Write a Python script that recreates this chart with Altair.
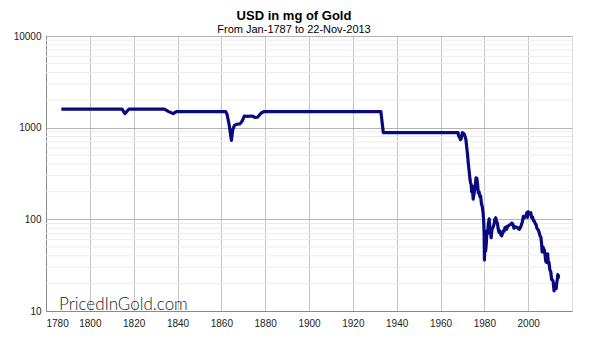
import altair as alt
import pandas as pd

# ---- data (year, USD value in mg of gold) ----
years = [
    1787.0, 1814.7, 1816.0, 1817.8, 1834.0, 1836.0, 1838.0, 1839.5,
    1862.0, 1862.6, 1863.5, 1864.6, 1865.2, 1866.0, 1867.0, 1868.5, 1869.5,
    1870.5, 1872.0, 1874.0, 1875.5, 1876.5, 1878.0, 1879.3,
    1932.8, 1933.9, 1950.0, 1960.0,
    1968.0, 1968.2, 1968.5, 1968.8, 1969.1, 1969.4, 1969.7, 1970.0, 1970.4,
    1970.8, 1971.2, 1971.6, 1971.9, 1972.3, 1972.6, 1972.9, 1973.1, 1973.4,
    1973.7, 1974.0, 1974.2, 1974.5, 1974.9, 1975.3, 1975.7, 1976.0, 1976.2,
    1976.6, 1977.0, 1977.2, 1977.6, 1978.0, 1978.3, 1978.7, 1979.0, 1979.4,
    1979.7, 1979.9, 1980.05, 1980.2, 1980.4, 1980.6, 1980.9, 1981.2, 1981.5,
    1981.8, 1982.2, 1982.5, 1982.8, 1983.1, 1983.4, 1983.7, 1984.0, 1984.4,
    1984.8, 1985.2, 1985.6, 1986.0, 1986.3, 1986.7, 1987.0, 1987.5, 1987.9,
    1988.3, 1988.7, 1989.0, 1989.4, 1989.8, 1990.2, 1990.6, 1991.0, 1991.5,
    1992.0, 1992.5, 1993.0, 1993.5, 1994.0, 1994.5, 1995.0, 1995.5, 1996.0,
    1996.5, 1997.0, 1997.4, 1997.8, 1998.2, 1998.6, 1999.0, 1999.4, 1999.7,
    2000.0, 2000.4, 2000.8, 2001.2, 2001.6, 2002.0, 2002.4, 2002.8, 2003.2,
    2003.6, 2003.9, 2004.3, 2004.7, 2005.0, 2005.4, 2005.8, 2006.1, 2006.4,
    2006.7, 2007.0, 2007.4, 2007.7, 2008.0, 2008.3, 2008.7, 2008.9, 2009.2,
    2009.5, 2009.9, 2010.3, 2010.7, 2011.0, 2011.4, 2011.8, 2012.1, 2012.4,
    2012.8, 2013.0, 2013.3, 2013.5, 2013.7, 2013.9,
]
mg_gold = [
    1590, 1590, 1423, 1590, 1590, 1497, 1423, 1497,
    1497, 1400, 1100, 728, 950, 1060, 1090, 1100, 1180,
    1340, 1330, 1340, 1290, 1300, 1430, 1497,
    1497, 885, 885, 885,
    885, 820, 800, 780, 740, 760, 830, 880, 870,
    850, 800, 740, 631, 520, 430, 365, 330, 280,
    250, 240, 200, 230, 166, 190, 221, 250, 284,
    280, 230, 194, 200, 175, 180, 147, 140, 120,
    97, 70, 36, 50, 60, 45, 55, 75, 70,
    89, 101, 80, 75, 63, 75, 80, 82, 88,
    100, 104, 95, 90, 79, 72, 75, 68, 66,
    70, 75, 74, 81, 82, 78, 84, 85, 87,
    88, 91, 89, 80, 83, 82, 82, 79, 78,
    82, 88, 95, 108, 104, 106, 110, 118, 105,
    121, 115, 117, 118, 104, 106, 97, 96, 90,
    88, 81, 78, 76, 72, 66, 64, 55, 44,
    50, 48, 46, 41, 35, 34, 38, 42, 33,
    34, 28, 27, 22, 22, 21, 16.6, 18, 19.5,
    17.5, 20, 22, 25, 23, 25,
]

x_ticks = [1780, 1800, 1820, 1840, 1860, 1880, 1900, 1920, 1940, 1960, 1980, 2000]
y_ticks = [10, 100, 1000, 10000]
minor_grid = [v * m for m in (10, 100, 1000) for v in range(2, 10)]

df = pd.DataFrame({"year": years, "mg": mg_gold})
minor_df = pd.DataFrame({"v": minor_grid})

FONT = "Liberation Sans"

x_scale = alt.Scale(domain=[1780, 2020], nice=False, zero=False)
y_scale = alt.Scale(type="log", domain=[10, 10000], nice=False)

y_axis = alt.Axis(
    values=y_ticks, format="d", title=None, grid=True, gridColor="#b4b4b4",
    domainColor="#8a8a8a", ticks=False, labelPadding=5, labelFontSize=10,
    labelFont=FONT, labelColor="#222222",
)
x_axis = alt.Axis(
    values=x_ticks, format="d", title=None, grid=True, gridColor="#c4c4c4",
    domainColor="#8a8a8a", ticks=False, labelPadding=7, labelFontSize=10,
    labelFont=FONT, labelColor="#222222",
)

minor = alt.Chart(minor_df).mark_rule(color="#ececec", strokeWidth=1).encode(
    y=alt.Y("v:Q", scale=y_scale, axis=y_axis)
)

line = alt.Chart(df).mark_line(color="#0a0a80", strokeWidth=3.2, strokeJoin="round").encode(
    x=alt.X("year:Q", scale=x_scale, axis=x_axis),
    y=alt.Y("mg:Q", scale=y_scale, axis=y_axis),
)

watermark = alt.Chart(pd.DataFrame({"t": ["PricedInGold.com"]})).mark_text(
    align="left", baseline="alphabetic", font="Lato", fontSize=17, fontWeight=300,
    color="#222222",
).encode(text="t:N", x=alt.value(13), y=alt.value(274))

chart = (
    alt.layer(minor, line, watermark)
    .properties(
        width=526,
        height=275,
        autosize=alt.AutoSizeParams(type="none"),
        padding={"left": 46, "top": 36, "right": 18, "bottom": 42},
        title=alt.TitleParams(
            text="USD in mg of Gold",
            subtitle="From Jan-1787 to 22-Nov-2013",
            font=FONT, fontSize=13, fontWeight="bold", color="#000000",
            subtitleFont=FONT, subtitleFontSize=11, subtitleColor="#000000",
            subtitlePadding=1, anchor="middle", dx=-15, offset=-4,
        ),
    )
    .configure_view(stroke="#9a9a9a", strokeWidth=1)
    .configure(background="white")
)

chart.save("out.html", embed_options={"renderer": "svg", "actions": False})
